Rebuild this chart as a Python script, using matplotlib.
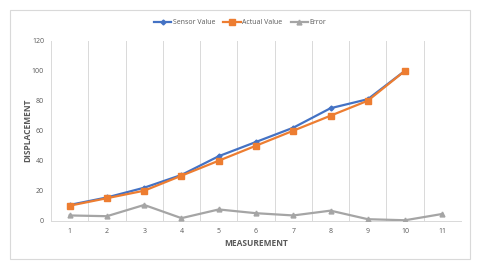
import matplotlib
matplotlib.use("Agg")
import matplotlib.pyplot as plt
import numpy as np
from matplotlib.patches import Rectangle

# values
measurement = [1, 2, 3, 4, 5, 6, 7, 8, 9, 10, 11]
sensor_x = [1, 2, 3, 4, 5, 6, 7, 8, 9, 10]
sensor = [10.5, 15.5, 22, 30.5, 43, 52.5, 62, 75, 81, 100]
actual = [10, 15, 20, 30, 40, 50, 60, 70, 80, 100]
error = [3.5, 3, 10.5, 1.7, 7.5, 5, 3.5, 6.7, 1, 0.3, 4.5]

plt.rcParams['font.family'] = ['Open Sans', 'DejaVu Sans']

fig = plt.figure(figsize=(4.8, 2.69), dpi=100)
fig.patch.set_facecolor('white')

# outer chart border
fig.patches.append(Rectangle((10/480, 1 - 259/269), 460/480, 249/269,
                             transform=fig.transFigure, fill=False,
                             edgecolor='#d9d9d9', linewidth=0.8))

ax = fig.add_axes([51/480, 1 - 220.7/269, 410/480, 180/269])

ax.plot(sensor_x, sensor, color='#4472C4', marker='D', markersize=2.5,
        linewidth=1.6, label='Sensor Value', zorder=3)
ax.plot(sensor_x, actual, color='#ED7D31', marker='s', markersize=4.5,
        linewidth=1.6, label='Actual Value', zorder=3)
ax.plot(measurement, error, color='#A5A5A5', marker='^', markersize=3.5,
        linewidth=1.6, label='Error', zorder=3)

ax.set_xlim(0.5, 11.5)
ax.set_ylim(0, 120)
ax.set_yticks(np.arange(0, 121, 20))
ax.set_xticks(measurement)
ax.set_xticks(np.arange(0.5, 12, 1), minor=True)
ax.grid(which='minor', axis='x', color='#d9d9d9', linewidth=0.7)
ax.tick_params(which='both', length=0)
ax.tick_params(axis='both', labelsize=5, colors='#595959', pad=5)

for s in ['top', 'right', 'left']:
    ax.spines[s].set_visible(False)
ax.spines['bottom'].set_color('#d9d9d9')
ax.spines['bottom'].set_linewidth(0.7)

ax.set_xlabel('MEASUREMENT', fontsize=6, fontweight='bold', color='#595959', labelpad=3)
ax.set_ylabel('DISPLACEMENT', fontsize=6, fontweight='bold', color='#595959', labelpad=0)

fig.legend(loc='center', bbox_to_anchor=(0.5, 1 - 23/269), ncol=3, frameon=False,
           fontsize=5, labelcolor='#595959', handlelength=2.5, columnspacing=1.2,
           handletextpad=0.2)

fig.savefig('out.png', dpi=100)
